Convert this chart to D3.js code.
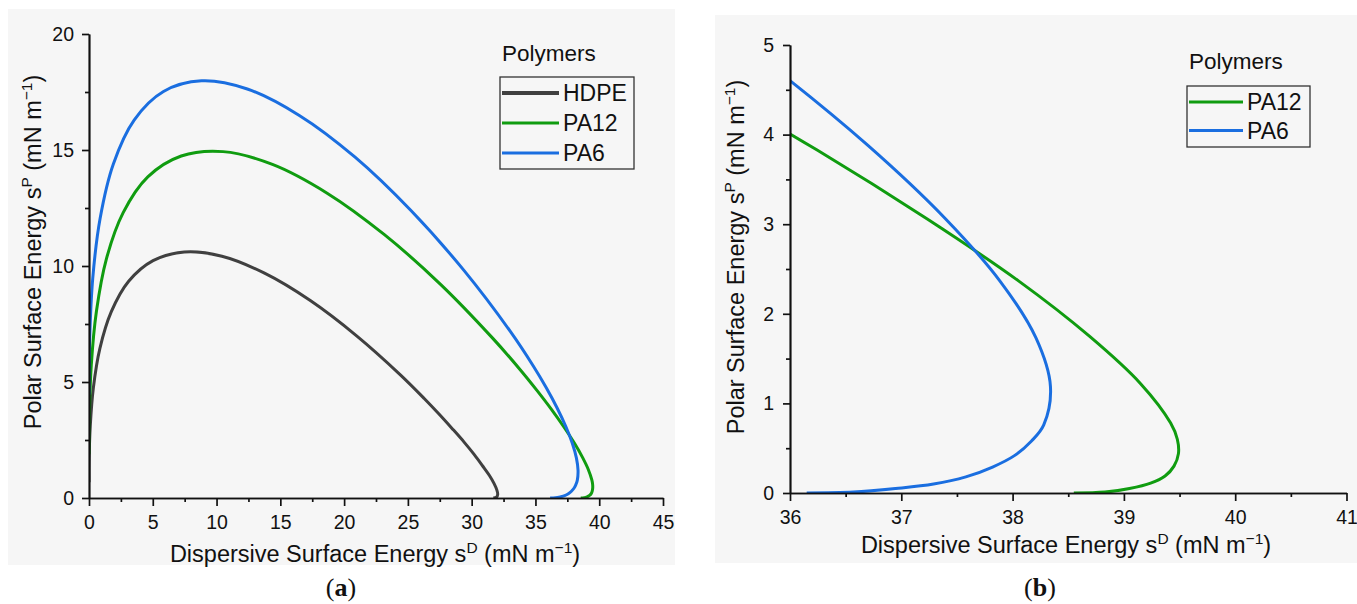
<!DOCTYPE html>
<html>
<head>
<meta charset="utf-8">
<script src="https://cdn.jsdelivr.net/npm/d3@7"></script>
<style>
  body { margin: 0; background: #fff; }
  text { font-family: "Liberation Sans", Arial, sans-serif; fill: #111; }
  .tick text { font-size: 19.5px; }
</style>
</head>
<body>
<svg id="chart"></svg>
<script>
// wetting envelopes, values
const polymers = ['HDPE', 'PA12', 'PA6']
const colors = ['#404040', '#109c10', '#1a6ee0']

const hdpeX = [31.70, 31.95, 32.04, 31.97, 31.75, 31.38, 30.85, 30.19, 29.39, 28.46, 27.42, 26.28, 24.41, 20.98, 17.35, 13.76, 10.42, 7.47, 5.02, 3.11, 1.75, 0.85, 0.34, 0.10, 0.01, 0]
const hdpeY = [0, 0.04, 0.16, 0.35, 0.63, 0.98, 1.39, 1.88, 2.42, 3.00, 3.63, 4.29, 5.31, 6.99, 8.51, 9.69, 10.42, 10.60, 10.23, 9.34, 8.03, 6.44, 4.74, 3.11, 1.71, 0.68]

const pa12X = [38.55, 38.83, 39.05, 39.24, 39.37, 39.45, 39.49, 39.48, 39.42, 39.15, 38.69, 38.05, 37.23, 36.24, 35.10, 33.82, 31.66, 27.58, 23.16, 18.67, 14.38, 10.51, 7.23, 4.61, 2.68, 1.36, 0.58, 0.18, 0.03, 0.003, 0]
const pa12Y = [0, 0.01, 0.05, 0.11, 0.19, 0.30, 0.44, 0.60, 0.78, 1.22, 1.75, 2.37, 3.06, 3.83, 4.65, 5.52, 6.88, 9.20, 11.35, 13.14, 14.38, 14.93, 14.74, 13.84, 12.30, 10.30, 8.04, 5.74, 3.62, 2.53, 1.89]

const pa6X = [36.15, 36.57, 36.95, 37.29, 37.58, 37.82, 38.02, 38.17, 38.28, 38.34, 38.21, 37.89, 37.39, 36.70, 35.85, 34.83, 33.03, 29.41, 25.26, 20.86, 16.49, 12.41, 8.82, 5.84, 3.54, 1.91, 0.87, 0.29, 0.05, 0.007, 0]
const pa6Y = [0, 0.01, 0.05, 0.10, 0.18, 0.29, 0.42, 0.58, 0.76, 1.19, 1.73, 2.36, 3.07, 3.88, 4.75, 5.69, 7.18, 9.80, 12.38, 14.69, 16.49, 17.63, 17.98, 17.52, 16.29, 14.40, 12.05, 9.45, 6.84, 5.37, 4.45]

const ticksA_x = [0, 5, 10, 15, 20, 25, 30, 35, 40, 45]
const ticksA_y = [0, 5, 10, 15, 20]
const ticksB_x = [36, 37, 38, 39, 40, 41]
const ticksB_y = [0, 1, 2, 3, 4, 5]

const series = [
  { name: polymers[0], color: colors[0], pts: hdpeX.map((x, i) => [x, hdpeY[i]]) },
  { name: polymers[1], color: colors[1], pts: pa12X.map((x, i) => [x, pa12Y[i]]) },
  { name: polymers[2], color: colors[2], pts: pa6X.map((x, i) => [x, pa6Y[i]]) }
]

const svgWidth = 1357, svgHeight = 604

let svg = d3.select('#chart')
    .attr('width', svgWidth)
    .attr('height', svgHeight)
    .style('background', '#fff')

// faint grey panels behind each plot
svg.append('rect').attr('x', 8).attr('y', 9).attr('width', 667).attr('height', 556).attr('fill', '#f6f6f6')
svg.append('rect').attr('x', 715).attr('y', 15).attr('width', 642).attr('height', 548).attr('fill', '#f6f6f6')

// writes "main<sup>sup</sup> (mN m<sup>−1</sup>)"
function axisTitle(g, main, sup) {
  let t = g.append('text').attr('text-anchor', 'middle').style('font-size', '23.5px')
  t.append('tspan').text(main)
  t.append('tspan').attr('dy', -9).style('font-size', '15.5px').text(sup)
  t.append('tspan').attr('dy', 9).text(' (mN m')
  t.append('tspan').attr('dy', -9).style('font-size', '15.5px').text('\u22121')
  t.append('tspan').attr('dy', 9).text(')')
  return t
}

function panel(cfg) {
  const x = d3.scaleLinear().domain(cfg.xDomain).range(cfg.xRange)
  const y = d3.scaleLinear().domain(cfg.yDomain).range(cfg.yRange)
  const g = svg.append('g')

  const clipId = 'clip' + cfg.id
  g.append('clipPath').attr('id', clipId).append('rect')
      .attr('x', cfg.xRange[0]).attr('y', cfg.yRange[1] - 2)
      .attr('width', cfg.xRange[1] - cfg.xRange[0] + 2)
      .attr('height', cfg.yRange[0] - cfg.yRange[1] + 2)

  const line = d3.line()
      .x(d => x(d[0]))
      .y(d => y(d[1]))
      .curve(d3.curveCatmullRom.alpha(0.5))

  g.append('g').attr('clip-path', `url(#${clipId})`)
    .selectAll('path')
    .data(series.filter(s => cfg.show.includes(s.name)))
    .enter()
    .append('path')
      .attr('d', d => line(d.pts))
      .attr('fill', 'none')
      .attr('stroke', d => d.color)
      .attr('stroke-width', 3)
      .attr('stroke-linejoin', 'round')

  // minor ticks first, then the labelled ones
  g.append('g')
      .attr('transform', `translate(0,${cfg.yRange[0]})`)
      .call(d3.axisBottom(x).tickValues(cfg.xMinor).tickSize(4).tickFormat('').tickSizeOuter(0))
  g.append('g')
      .attr('transform', `translate(${cfg.xRange[0]},0)`)
      .call(d3.axisLeft(y).tickValues(cfg.yMinor).tickSize(4).tickFormat('').tickSizeOuter(0))

  g.append('g')
      .attr('transform', `translate(0,${cfg.yRange[0]})`)
      .call(d3.axisBottom(x).tickValues(cfg.xTicks).tickFormat(d3.format('d'))
        .tickSize(8).tickPadding(9).tickSizeOuter(0))
  g.append('g')
      .attr('transform', `translate(${cfg.xRange[0]},0)`)
      .call(d3.axisLeft(y).tickValues(cfg.yTicks).tickFormat(d3.format('d'))
        .tickSize(7).tickPadding(cfg.yPad).tickSizeOuter(0))

  g.selectAll('.domain, .tick line').attr('stroke', '#111').attr('stroke-width', 1.7)
  g.selectAll('.tick text').attr('fill', '#111').style('font-family', '"Liberation Sans", Arial, sans-serif')

  axisTitle(g, 'Dispersive Surface Energy s', 'D')
      .attr('x', cfg.xTitle[0]).attr('y', cfg.xTitle[1])
  axisTitle(g, 'Polar Surface Energy s', 'P')
      .attr('transform', `translate(${cfg.yTitle[0]},${cfg.yTitle[1]}) rotate(-90)`)

  // legend
  const lg = cfg.legend
  g.append('text').attr('x', lg.x + 2).attr('y', lg.titleY).style('font-size', '22.5px').text('Polymers')
  const items = series.filter(s => cfg.show.includes(s.name))
  g.append('rect')
      .attr('x', lg.x).attr('y', lg.y)
      .attr('width', lg.w).attr('height', lg.h)
      .attr('fill', 'none').attr('stroke', '#333').attr('stroke-width', 1.3)
  items.forEach((s, i) => {
    const yy = lg.first + i * lg.step
    g.append('line')
        .attr('x1', lg.x + 2).attr('x2', lg.x + 2 + lg.len)
        .attr('y1', yy).attr('y2', yy)
        .attr('stroke', s.color).attr('stroke-width', s.name === 'HDPE' ? 4 : 3.2)
    g.append('text')
        .attr('x', lg.x + lg.len + 6).attr('y', yy).attr('dy', '0.36em')
        .style('font-size', '23px').text(s.name)
  })

  // caption
  let c = svg.append('text')
      .attr('x', cfg.caption[0]).attr('y', cfg.caption[1])
      .attr('text-anchor', 'middle')
      .style('font-family', '"Liberation Serif", "Times New Roman", serif')
      .style('font-size', '26px')
  c.append('tspan').text('(')
  c.append('tspan').style('font-weight', 'bold').text(cfg.id)
  c.append('tspan').text(')')
}

panel({
  id: 'a',
  xDomain: [0, 45], xRange: [89, 663],
  yDomain: [0, 20], yRange: [498, 34],
  xTicks: ticksA_x, yTicks: ticksA_y,
  xMinor: d3.range(2.5, 45, 5), yMinor: d3.range(2.5, 20, 5),
  yPad: 8,
  show: polymers,
  xTitle: [375, 562], yTitle: [41, 252],
  legend: { x: 500, y: 77, w: 134, h: 92, titleY: 61, first: 93, step: 30, len: 57 },
  caption: [341, 596]
})

panel({
  id: 'b',
  xDomain: [36, 41], xRange: [790, 1346.5],
  yDomain: [0, 5], yRange: [493, 45],
  xTicks: ticksB_x, yTicks: ticksB_y,
  xMinor: d3.range(36.5, 41, 1), yMinor: d3.range(0.5, 5, 1),
  yPad: 9,
  show: ['PA12', 'PA6'],
  xTitle: [1066, 553], yTitle: [744, 257],
  legend: { x: 1187, y: 86, w: 123, h: 61, titleY: 69, first: 102, step: 28.5, len: 54 },
  caption: [1040, 596]
})
</script>
</body>
</html>
